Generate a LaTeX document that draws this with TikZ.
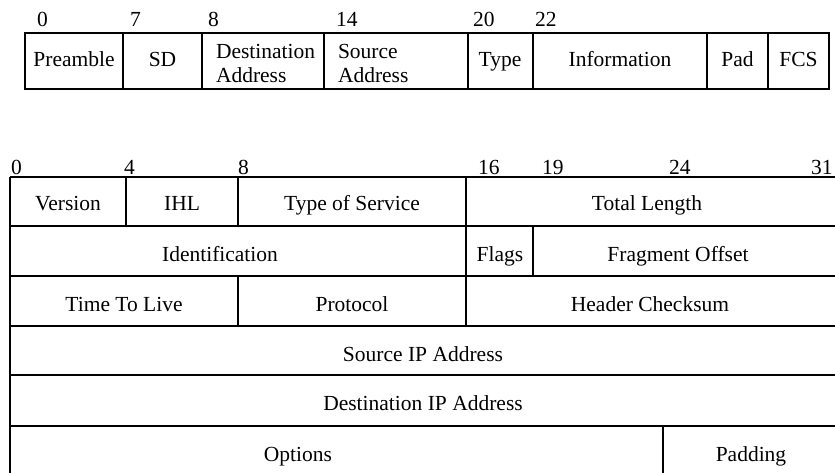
\documentclass[tikz,border=0pt]{standalone}
\usepackage{fontspec}
\setmainfont{Liberation Serif}
\begin{document}
\begin{tikzpicture}[x=1pt,y=-1pt,line width=2pt,
  fld/.style={anchor=base,inner sep=0pt,font=\fontsize{21.5}{24}\selectfont},
  twoline/.style={anchor=west,align=left,inner sep=0pt,font=\fontsize{21.5}{24}\selectfont},
  bitno/.style={anchor=base west,inner sep=0pt,font=\fontsize{21.5}{24}\selectfont}]
\useasboundingbox (0,0) rectangle (835,473);
\clip (0,0) rectangle (835,473);
\def\ft{33};
\def\fb{89};
\def\fy{66.5};
\def\L{10};
\def\R{840};

\draw (25,\ft) rectangle (829,\fb);
\foreach \x in {123,202,324,468,533,707,768} \draw (\x,\ft) -- (\x,\fb);

\foreach \x/\n in {36/0,129/7,207/8,335/14,472/20,534/22}
  \node[bitno] (f\n) at (\x,27) {\n};

\node[fld] (pre) at (74,\fy) {Preamble};
\node[fld] (sd) at (162.5,\fy) {SD};
\node[twoline] (da) at (215,63) {Destination\\Address};
\node[twoline] (sa) at (337,63) {Source\\Address};
\node[fld] (type) at (500,\fy) {Type};
\node[fld] (info) at (620,\fy) {Information};
\node[fld] (pad) at (737.5,\fy) {Pad};
\node[fld] (fcs) at (798.5,\fy) {FCS};

\foreach \y in {177,226,276,326,375,426,476} \draw (\L,\y) -- (\R,\y);
\draw (\L,177) -- (\L,476);
\draw (\R,177) -- (\R,476);
\draw (126,177) -- (126,226);
\draw (238,177) -- (238,226);
\draw (466,177) -- (466,326);
\draw (533,226) -- (533,276);
\draw (238,276) -- (238,326);
\draw (663,426) -- (663,476);

\foreach \x/\n in {10/0,123/4,237/8,477/16,541/19,668/24,810/31}
  \node[bitno] (b\n) at (\x,175) {\n};

\node[fld] (ver) at (68,211) {Version};
\node[fld] (ihl) at (182,211) {IHL};
\node[fld] (tos) at (352,211) {Type of Service};
\node[fld] (tlen) at (647,211) {Total Length};
\node[fld] (ident) at (220,261) {Identification};
\node[fld] (flags) at (500,261) {Flags};
\node[fld] (frag) at (678,261) {Fragment Offset};
\node[fld] (ttl) at (124,311) {Time To Live};
\node[fld] (proto) at (352,311) {Protocol};
\node[fld] (hcs) at (650,311) {Header Checksum};
\node[fld] (srcip) at (423,361) {Source IP Address};
\node[fld] (dstip) at (423,410) {Destination IP Address};
\node[fld] (opt) at (298,461) {Options};
\node[fld] (padd) at (751,461) {Padding};
\end{tikzpicture}
\end{document}
